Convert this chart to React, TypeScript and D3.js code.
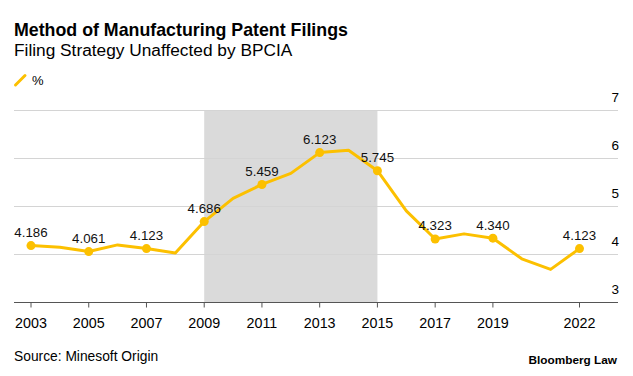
import React from "react";
import * as d3 from "d3";

const years = [2003, 2004, 2005, 2006, 2007, 2008, 2009, 2010, 2011, 2012, 2013, 2014, 2015, 2016, 2017, 2018, 2019, 2020, 2021, 2022];
const values = [4.186, 4.15, 4.061, 4.2, 4.123, 4.03, 4.686, 5.17, 5.459, 5.69, 6.123, 6.17, 5.745, 4.91, 4.323, 4.43, 4.34, 3.91, 3.69, 4.123];
const labeledYears = [2003, 2005, 2007, 2009, 2011, 2013, 2015, 2017, 2019, 2022];
const xTicks = [2003, 2005, 2007, 2009, 2011, 2013, 2015, 2017, 2019, 2022];
const yTicks = [3, 4, 5, 6, 7];
const shadeRange = [2009, 2015];

const FONT = "'Liberation Sans', Arial, sans-serif";

export default function App() {
  const W = 633, H = 376;
  const x = d3.scaleLinear().domain([2003, 2022]).range([31, 579.5]);
  const y = d3.scaleLinear().domain([3, 7]).range([302.5, 110.5]);
  const line = d3.line<number>().x((_, i) => x(years[i])).y((d) => y(d));
  const gridL = 14, gridR = 618;
  const color = "#fcc000";
  return (
    <svg width={W} height={H} style={{ position: "absolute", left: 0, top: 0, background: "#fff" }} fontFamily={FONT}>
      <text x={14} y={36} fontSize={17.8} fontWeight="bold" fill="#000">Method of Manufacturing Patent Filings</text>
      <text x={14} y={56} fontSize={17.3} fill="#000">Filing Strategy Unaffected by BPCIA</text>
      <line x1={15.5} y1={85} x2={25} y2={75.5} stroke={color} strokeWidth={3} strokeLinecap="round" />
      <text x={32} y={85} fontSize={13} fill="#000">%</text>

      <rect x={x(shadeRange[0])} y={y(7)} width={x(shadeRange[1]) - x(shadeRange[0])} height={y(3) - y(7)} fill="#dadada" />
      {yTicks.filter((t) => t !== 3).map((t) => (
        <line key={t} x1={gridL} x2={gridR} y1={y(t)} y2={y(t)} stroke="#d4d4d4" strokeWidth={1} />
      ))}
      {yTicks.map((t) => (
        <text key={t} x={619} y={y(t) - 9} fontSize={13.5} textAnchor="end" fill="#000">{t}</text>
      ))}
      <line x1={gridL} x2={gridR} y1={y(3)} y2={y(3)} stroke="#555" strokeWidth={1} />
      {xTicks.map((t) => (
        <g key={t}>
          <line x1={x(t)} x2={x(t)} y1={y(3)} y2={y(3) + 5} stroke="#555" strokeWidth={1} />
          <text x={x(t)} y={327.7} fontSize={14.3} textAnchor="middle" fill="#000">{t}</text>
        </g>
      ))}
      <path d={line(values) || ""} fill="none" stroke={color} strokeWidth={3} strokeLinejoin="round" />
      {labeledYears.map((yr) => {
        const v = values[years.indexOf(yr)];
        return (
          <g key={yr}>
            <circle cx={x(yr)} cy={y(v)} r={4.5} fill={color} />
            <text x={x(yr)} y={y(v) - 8.5} fontSize={13.3} textAnchor="middle" fill="#111">{v.toFixed(3)}</text>
          </g>
        );
      })}
      <text x={14} y={360.7} fontSize={13.8} fill="#000">Source: Minesoft Origin</text>
      <text x={617} y={364.3} fontSize={11.8} fontWeight="bold" textAnchor="end" fill="#000">Bloomberg Law</text>
    </svg>
  );
}
